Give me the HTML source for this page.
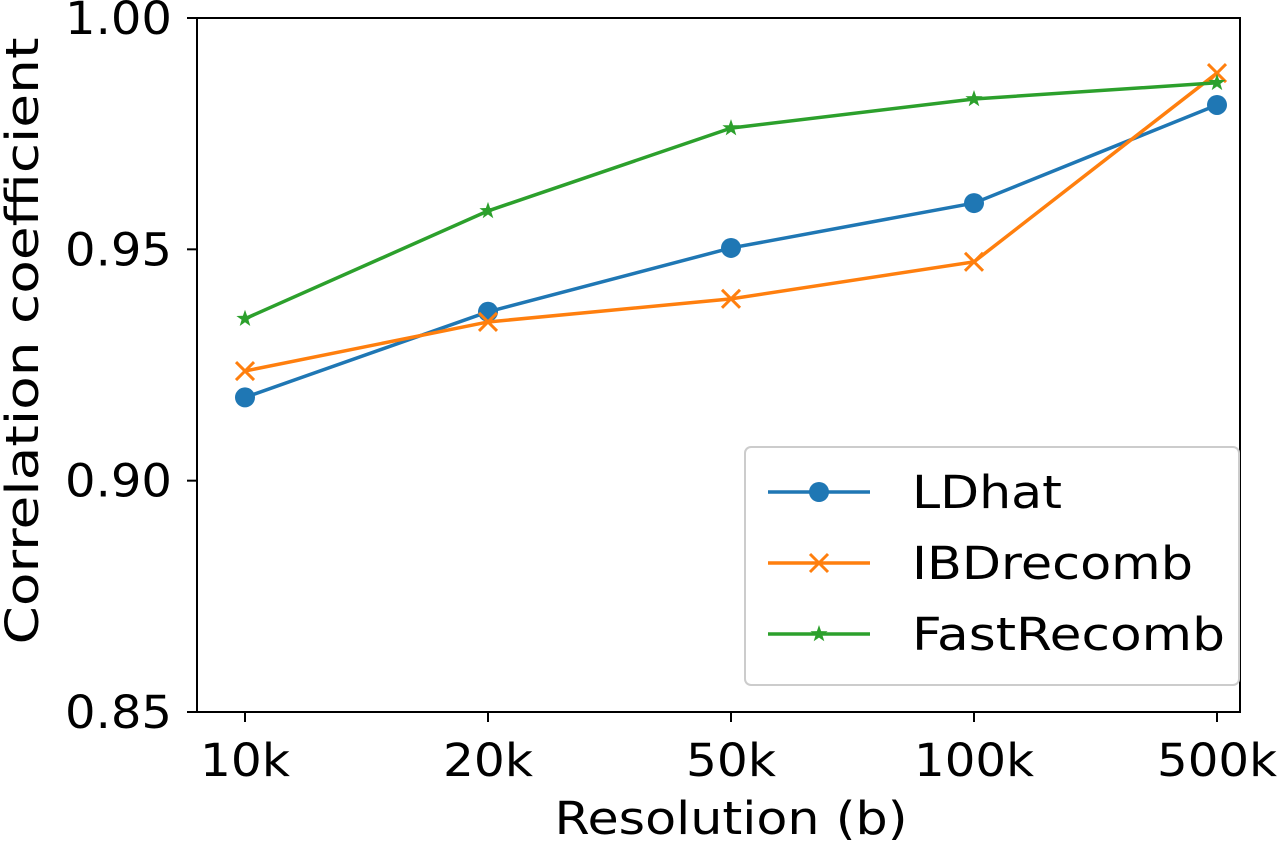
<!DOCTYPE html>
<html><head><meta charset="utf-8"><style>
html,body{margin:0;padding:0;background:#fff;}
svg{display:block;font-family:"DejaVu Sans","Liberation Sans",sans-serif;}
</style></head><body>
<svg id="chart" width="1280" height="841" viewBox="0 0 1280 841"></svg>
<script>
const categories=["10k","20k","50k","100k","500k"];
const ldhat=[0.918,0.9365,0.9503,0.960,0.9812];
const ibd=[0.9237,0.9343,0.9393,0.9473,0.9881];
const fast=[0.935,0.9583,0.9762,0.9825,0.986];
const yTicks=[0.85,0.90,0.95,1.00];
const yTickLabels=["0.85","0.90","0.95","1.00"];
const seriesNames=["LDhat","IBDrecomb","FastRecomb"];

const L=197,R=1240,T=18,B=712;
const svg=document.getElementById('chart');
const NS='http://www.w3.org/2000/svg';
function xs(i){return 245+i*243;}
function ys(v){return B-(v-0.85)/0.15*(B-T);}
function mk(tag,attrs,parent){const e=document.createElementNS(NS,tag);for(const k in attrs)e.setAttribute(k,attrs[k]);(parent||svg).appendChild(e);return e;}
function charLen(s,per){return s.length*per;}

const frame=mk('rect',{x:L,y:T,width:R-L,height:B-T,fill:'none',stroke:'#000','stroke-width':2});



yTicks.forEach((v,i)=>{
  const y=ys(v);
  const t=mk('line',{x1:L-10,x2:L,y1:y,y2:y,stroke:'#000','stroke-width':2});
  
  
  const tx=mk('text',{x:L-25,y:y+16,'text-anchor':'end','font-size':45,fill:'#000',textLength:107,lengthAdjust:'spacingAndGlyphs'});
  tx.textContent=yTickLabels[i];
  
  
});
categories.forEach((c,i)=>{
  const x=xs(i);
  const t=mk('line',{x1:x,x2:x,y1:B,y2:B+10,stroke:'#000','stroke-width':2});
  
  
  const tx=mk('text',{x:x,y:B+64,'text-anchor':'middle','font-size':45,fill:'#000',textLength:charLen(c,30),lengthAdjust:'spacingAndGlyphs'});
  tx.textContent=c;
  
  
});
const xl=mk('text',{x:731,y:834,'text-anchor':'middle','font-size':45,fill:'#000',textLength:353,lengthAdjust:'spacingAndGlyphs'});
xl.textContent='Resolution (b)';


const yl=mk('text',{x:0,y:0,'text-anchor':'middle','font-size':45,fill:'#000',textLength:607,lengthAdjust:'spacingAndGlyphs',transform:'translate(38,341) rotate(-90)'});
yl.textContent='Correlation coefficient';



function marker(type,x,y,color,g){
  if(type==='o'){mk('circle',{cx:x,cy:y,r:10,fill:color},g);}
  else if(type==='x'){mk('path',{d:`M${x-9},${y-9}L${x+9},${y+9}M${x-9},${y+9}L${x+9},${y-9}`,stroke:color,'stroke-width':3,fill:'none'},g);}
  else{let p=[];for(let k=0;k<10;k++){const r=k%2?3.6:9;const a=-Math.PI/2+k*Math.PI/5;p.push((x+r*Math.cos(a)).toFixed(1)+','+(y+r*Math.sin(a)).toFixed(1));}
    mk('polygon',{points:p.join(' '),fill:color},g);}
}
const series=[[ldhat,'#1f77b4','o'],[ibd,'#ff7f0e','x'],[fast,'#2ca02c','*']];
series.forEach((s,si)=>{
  const g=mk('g',{});
  
  
  mk('polyline',{points:s[0].map((v,i)=>xs(i)+','+ys(v)).join(' '),fill:'none',stroke:s[1],'stroke-width':3.5},g);
  s[0].forEach((v,i)=>marker(s[2],xs(i),ys(v),s[1],g));
});

const legendLens=[150,281,313];
const lg=mk('g',{});


mk('rect',{x:745,y:447,width:494,height:238,rx:6,fill:'#fff',stroke:'#ccc','stroke-width':2},lg);
series.forEach((s,si)=>{
  const y=492+si*71;
  const e=mk('g',{},lg);
  
  
  mk('line',{x1:768,x2:870,y1:y,y2:y,stroke:s[1],'stroke-width':3.5},e);
  marker(s[2],819,y,s[1],e);
  const t=mk('text',{x:912,y:y+16,'font-size':45,fill:'#000',textLength:legendLens[si],lengthAdjust:'spacingAndGlyphs'},e);
  t.textContent=seriesNames[si];
});
</script>
</body></html>
